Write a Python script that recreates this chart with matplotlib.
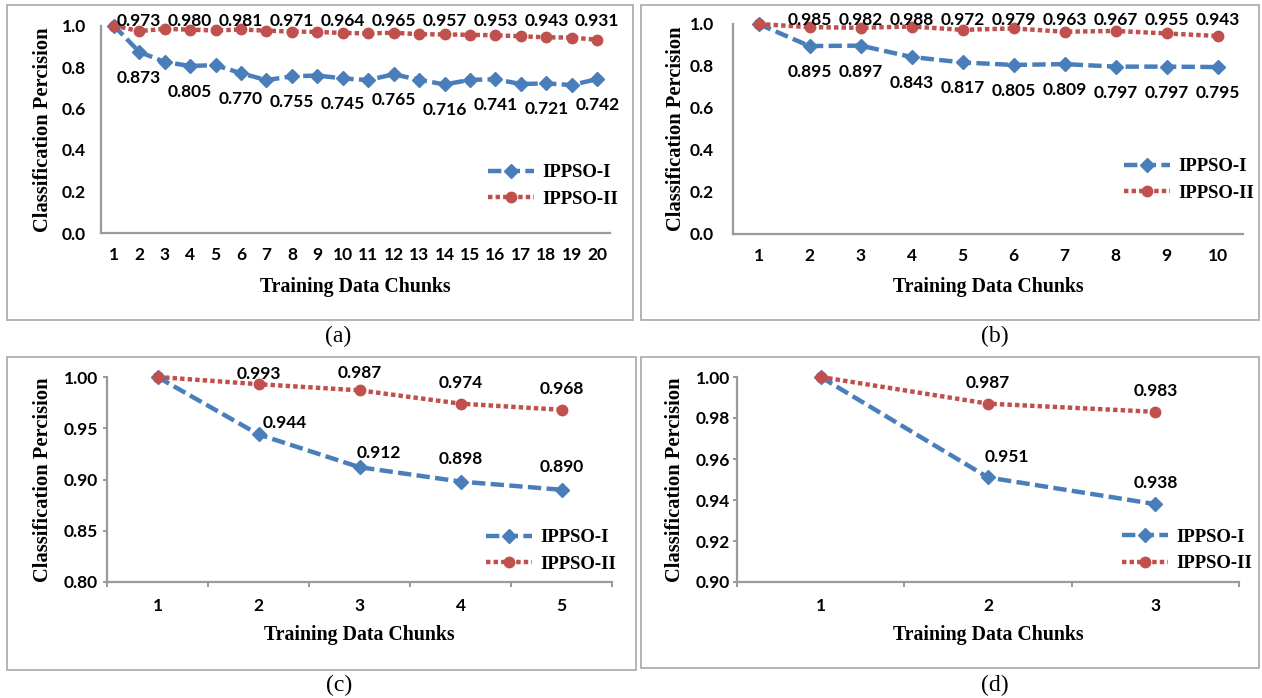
import matplotlib.pyplot as plt
from matplotlib.patches import Rectangle
from matplotlib.ticker import FormatStrFormatter, MultipleLocator, FixedLocator

W, H = 1262, 698

# classification precision per training data chunk
ippso1_a = [1.000, 0.873, 0.824, 0.805, 0.809, 0.770, 0.737, 0.755, 0.759, 0.745,
            0.737, 0.765, 0.738, 0.716, 0.738, 0.741, 0.718, 0.721, 0.713, 0.742]
ippso2_a = [1.000, 0.973, 0.984, 0.980, 0.976, 0.981, 0.975, 0.971, 0.969, 0.964,
            0.962, 0.965, 0.958, 0.957, 0.955, 0.953, 0.948, 0.943, 0.942, 0.931]

ippso1_b = [1.000, 0.895, 0.897, 0.843, 0.817, 0.805, 0.809, 0.797, 0.797, 0.795]
ippso2_b = [1.000, 0.985, 0.982, 0.988, 0.972, 0.979, 0.963, 0.967, 0.955, 0.943]

ippso1_c = [1.000, 0.944, 0.912, 0.898, 0.890]
ippso2_c = [1.000, 0.993, 0.987, 0.974, 0.968]

ippso1_d = [1.000, 0.951, 0.938]
ippso2_d = [1.000, 0.987, 0.983]

series_names = ["IPPSO-I", "IPPSO-II"]
captions = ["(a)", "(b)", "(c)", "(d)"]

BLUE = "#4A7EBB"
RED = "#C0504D"
GREY = "#9A9A9A"
NUM_FONT = "Lato"
SERIF = "Liberation Serif"
NUM_SIZE = 12.5

PX = 0.72  # pixel -> point at dpi 100

fig = plt.figure(figsize=(W / 100, H / 100), dpi=100)


def ax_at(left, top, right, bottom):
    return fig.add_axes([left / W, 1 - bottom / H, (right - left) / W, (bottom - top) / H])


def box(left, top, right, bottom):
    fig.patches.append(Rectangle((left / W, 1 - bottom / H), (right - left) / W,
                                 (bottom - top) / H, transform=fig.transFigure,
                                 fill=False, edgecolor="#A8A8A8", linewidth=1.2))


def panel(ax, s1, s2, ylim, ystep, yfmt, boundary_ticks, ypad, xlab_dy, ylab_dx,
          leg_xy, axes_px):
    x = list(range(1, len(s1) + 1))
    ax.plot(x, s1, color=BLUE, linestyle=(0, (3, 1.2)), linewidth=3.2, marker="D",
            markersize=7.5, clip_on=False, label=series_names[0], zorder=3)
    ax.plot(x, s2, color=RED, linestyle=(0, (1, 0.7)), linewidth=3.2, marker="o",
            markersize=7.5, clip_on=False, label=series_names[1], zorder=3)
    ax.set_xlim(0.5, len(s1) + 0.5)
    ax.set_ylim(*ylim)
    ax.yaxis.set_major_locator(MultipleLocator(ystep))
    ax.yaxis.set_major_formatter(FormatStrFormatter(yfmt))
    ax.xaxis.set_major_locator(FixedLocator(x))
    for s in ("top", "right"):
        ax.spines[s].set_visible(False)
    for s in ("left", "bottom"):
        ax.spines[s].set_color(GREY)
        ax.spines[s].set_linewidth(1.6)
    ax.set_facecolor("none")
    if boundary_ticks:
        ax.xaxis.set_minor_locator(FixedLocator([i + 0.5 for i in range(len(s1) + 1)]))
        ax.tick_params(axis="x", which="minor", length=5 * PX, width=1.4, color=GREY)
        ax.tick_params(axis="x", which="major", length=0, pad=16 * PX)
        ax.tick_params(axis="y", which="major", length=4 * PX, width=1.4, color=GREY,
                       pad=ypad * PX)
    else:
        ax.tick_params(axis="x", which="major", length=0, pad=14 * PX)
        ax.tick_params(axis="y", which="major", length=0, pad=ypad * PX)
    for lab in ax.get_xticklabels() + ax.get_yticklabels():
        lab.set_fontfamily(NUM_FONT)
        lab.set_fontweight("bold")
        lab.set_fontsize(NUM_SIZE)
    w_px, h_px = axes_px
    ax.set_xlabel("Training Data Chunks", family=SERIF, fontweight="bold", fontsize=14.3)
    ax.xaxis.set_label_coords(0.5, -xlab_dy / h_px)
    ax.xaxis.label.set_va("center")
    ax.set_ylabel("Classification Percision", family=SERIF, fontweight="bold", fontsize=14.8)
    ax.yaxis.set_label_coords(-ylab_dx / w_px, 0.5)
    ax.yaxis.label.set_va("center")
    ax.yaxis.label.set_ha("center")
    ax.legend(loc="center left", bbox_to_anchor=(leg_xy[0] / W, 1 - leg_xy[1] / H),
              bbox_transform=fig.transFigure, frameon=False, borderpad=0,
              borderaxespad=0, handlelength=2.45, handletextpad=0.45,
              labelspacing=0.5, numpoints=1,
              prop={"family": SERIF, "weight": "bold", "size": 13.5})
    return x


def label(ax, x, y, text, dx, dy, ycoords="data"):
    ax.annotate(text, xy=(x, y), xycoords=("data", ycoords), xytext=(dx * PX, dy * PX),
                textcoords="offset points", ha="center", va="center",
                family=NUM_FONT, fontweight="bold", fontsize=NUM_SIZE, annotation_clip=False)


# (a)
box(7, 5, 633, 320)
ax_a = ax_at(101, 25.5, 610, 233)
xa = panel(ax_a, ippso1_a, ippso2_a, (0, 1.0), 0.2, "%.1f", False, 15, 54, 58,
           (488, 186), (509, 207.5))
for i in range(1, len(xa), 2):
    label(ax_a, xa[i], ippso1_a[i], f"{ippso1_a[i]:.3f}", 0, -26)
    label(ax_a, xa[i], 1.0, f"{ippso2_a[i]:.3f}", 0, 4, "axes fraction")

# (b)
box(641, 5, 1259, 320)
ax_b = ax_at(733, 24, 1243, 234)
xb = panel(ax_b, ippso1_b, ippso2_b, (0, 1.0), 0.2, "%.1f", False, 19, 53, 57,
           (1124, 180), (510, 210))
for i in range(1, len(xb)):
    label(ax_b, xb[i], ippso1_b[i], f"{ippso1_b[i]:.3f}", 0, -26)
    label(ax_b, xb[i], 1.0, f"{ippso2_b[i]:.3f}", 0, 4, "axes fraction")

# (c)
box(7, 357, 636, 670)
ax_c = ax_at(107, 377, 612, 582)
xc = panel(ax_c, ippso1_c, ippso2_c, (0.80, 1.00), 0.05, "%.2f", True, 5, 53, 64,
           (486, 551), (505, 205))
off1_c = [None, (26, 11), (19, 14), (0, 23), (0, 22.5)]
off2_c = [None, (0, 10.5), (0, 17.5), (0, 20.5), (0, 20.5)]
for i in range(1, len(xc)):
    label(ax_c, xc[i], ippso1_c[i], f"{ippso1_c[i]:.3f}", *off1_c[i])
    label(ax_c, xc[i], ippso2_c[i], f"{ippso2_c[i]:.3f}", *off2_c[i])

# (d)
box(641, 357, 1259, 668)
ax_d = ax_at(737, 377, 1239, 582)
xd = panel(ax_d, ippso1_d, ippso2_d, (0.90, 1.00), 0.02, "%.2f", True, 3, 53, 62,
           (1122, 550.5), (502, 205))
off1_d = [None, (19, 20), (0, 21.5)]
off2_d = [None, (0, 21), (0, 20.5)]
for i in range(1, len(xd)):
    label(ax_d, xd[i], ippso1_d[i], f"{ippso1_d[i]:.3f}", *off1_d[i])
    label(ax_d, xd[i], ippso2_d[i], f"{ippso2_d[i]:.3f}", *off2_d[i])

# captions
for (cx, cy), cap in zip([(338, 336), (995, 336), (339, 685), (995, 685)], captions):
    fig.text(cx / W, 1 - cy / H, cap, family=SERIF, fontsize=17, ha="center", va="center")

fig.savefig("out.png", dpi=100)
